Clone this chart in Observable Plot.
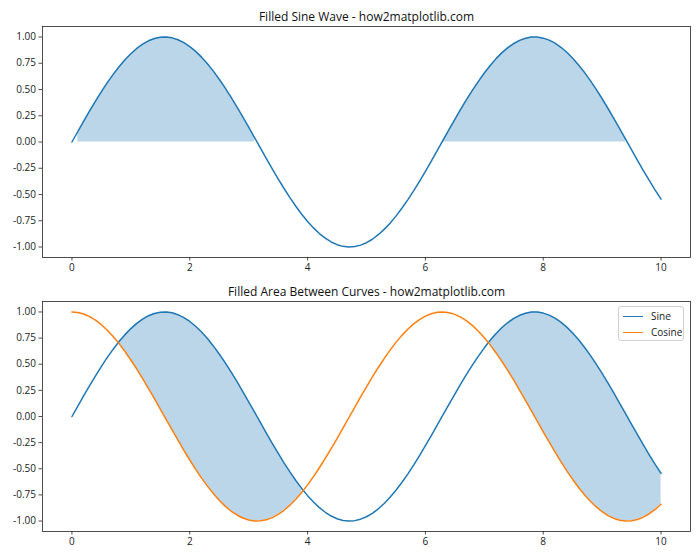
<!DOCTYPE html>
<html><head><meta charset="utf-8">
<script src="https://cdn.jsdelivr.net/npm/d3@7"></script>
<script src="https://cdn.jsdelivr.net/npm/@observablehq/plot@0.6"></script>
<style>
body{margin:0;background:#fff;}
#wrap{position:relative;width:700px;height:560px;font-family:"Open Sans","Noto Sans",sans-serif;}
#wrap svg{display:block;}
.legend{position:absolute;left:618px;top:306px;width:66px;height:35px;border:1px solid #d0d0d0;border-radius:3px;background:rgba(255,255,255,0.8);font-size:10px;color:#222;box-sizing:border-box;}
.legend .row{position:absolute;left:4px;height:14px;display:flex;align-items:center;}
.legend .sw{width:20px;height:0;border-top:1.5px solid;margin-right:8px;}
</style></head><body><div id="wrap"></div>
<script>
const xs = [0,0.1,0.2,0.3,0.4,0.5,0.6,0.7,0.8,0.9,1,1.1,1.2,1.3,1.4,1.5,1.6,1.7,1.8,1.9,2,2.1,2.2,2.3,2.4,2.5,2.6,2.7,2.8,2.9,3,3.1,3.2,3.3,3.4,3.5,3.6,3.7,3.8,3.9,4,4.1,4.2,4.3,4.4,4.5,4.6,4.7,4.8,4.9,5,5.1,5.2,5.3,5.4,5.5,5.6,5.7,5.8,5.9,6,6.1,6.2,6.3,6.4,6.5,6.6,6.7,6.8,6.9,7,7.1,7.2,7.3,7.4,7.5,7.6,7.7,7.8,7.9,8,8.1,8.2,8.3,8.4,8.5,8.6,8.7,8.8,8.9,9,9.1,9.2,9.3,9.4,9.5,9.6,9.7,9.8,9.9,10];
const sine = [0.000,0.100,0.199,0.296,0.389,0.479,0.565,0.644,0.717,0.783,0.841,0.891,0.932,0.964,0.985,0.997,1.000,0.992,0.974,0.946,0.909,0.863,0.808,0.746,0.675,0.598,0.516,0.427,0.335,0.239,0.141,0.042,-0.058,-0.158,-0.256,-0.351,-0.443,-0.530,-0.612,-0.688,-0.757,-0.818,-0.872,-0.916,-0.952,-0.978,-0.994,-1.000,-0.996,-0.982,-0.959,-0.926,-0.883,-0.832,-0.773,-0.706,-0.631,-0.551,-0.465,-0.374,-0.279,-0.182,-0.083,0.017,0.117,0.215,0.312,0.405,0.494,0.578,0.657,0.729,0.794,0.851,0.899,0.938,0.968,0.988,0.999,0.999,0.989,0.970,0.941,0.902,0.855,0.798,0.734,0.663,0.585,0.501,0.412,0.319,0.223,0.124,0.025,-0.075,-0.174,-0.272,-0.366,-0.458,-0.544];
const cosine = [1.000,0.995,0.980,0.955,0.921,0.878,0.825,0.765,0.697,0.622,0.540,0.454,0.362,0.267,0.170,0.071,-0.029,-0.129,-0.227,-0.323,-0.416,-0.505,-0.589,-0.666,-0.737,-0.801,-0.857,-0.904,-0.942,-0.971,-0.990,-0.999,-0.998,-0.987,-0.967,-0.936,-0.897,-0.848,-0.791,-0.726,-0.654,-0.575,-0.490,-0.401,-0.307,-0.211,-0.112,-0.012,0.087,0.187,0.284,0.378,0.469,0.554,0.635,0.709,0.776,0.835,0.886,0.927,0.960,0.983,0.997,1.000,0.993,0.977,0.950,0.914,0.869,0.816,0.754,0.685,0.608,0.526,0.439,0.347,0.251,0.153,0.054,-0.046,-0.146,-0.243,-0.339,-0.431,-0.520,-0.602,-0.679,-0.749,-0.811,-0.865,-0.911,-0.948,-0.975,-0.992,-1.000,-0.997,-0.985,-0.962,-0.930,-0.889,-0.839];
const titles = ["Filled Sine Wave - how2matplotlib.com", "Filled Area Between Curves - how2matplotlib.com"];
const xTicks = [0, 2, 4, 6, 8, 10];
const yTicks = [-1, -0.75, -0.5, -0.25, 0, 0.25, 0.5, 0.75, 1];
const seriesNames = ["Sine", "Cosine"];
const colors = ["#1f77b4", "#ff7f0e"];

const data = xs.map((x, i) => ({x, s: sine[i], c: cosine[i]}));
const fmtY = d => d3.format(".2f")(d).replace("−", "-");

function axes() {
  return [
    Plot.axisX(xTicks, {tickSize: 3.5, tickPadding: 3, tickFormat: d => String(d), fontSize: 10, fill: "#222", stroke: "#222", strokeWidth: 0.8}),
    Plot.axisY(yTicks, {tickSize: 3.5, tickPadding: 3, tickFormat: fmtY, fontSize: 10, fill: "#222", stroke: "#222", strokeWidth: 0.8}),
    Plot.frame({stroke: "#222", strokeWidth: 0.8})
  ];
}
function opts(mt, mb, marks) {
  return {
    width: 700, height: 280, marginTop: mt, marginBottom: mb, marginLeft: 42, marginRight: 10,
    x: {domain: [-0.5, 10.5], label: null},
    y: {domain: [-1.1, 1.1], label: null},
    style: {fontFamily: "'Open Sans','Noto Sans',sans-serif", fontSize: "10px", background: "white", overflow: "visible"},
    marks
  };
}
const wrap = document.getElementById("wrap");

const p1 = Plot.plot(opts(26, 23, [
  Plot.areaY(data, {x: "x", y1: 0, y2: d => d.s > 0 ? d.s : NaN, fill: colors[0], fillOpacity: 0.3}),
  Plot.line(data, {x: "x", y: "s", stroke: colors[0], strokeWidth: 1.5}),
  ...axes(),
  Plot.text([titles[0]], {frameAnchor: "top", lineAnchor: "bottom", dy: -6, fontSize: 12, fill: "#111", text: d => d})
]));
wrap.appendChild(p1);

const p2 = Plot.plot(opts(21, 29, [
  Plot.areaY(data, {x: "x", y1: d => d.s > d.c ? d.c : NaN, y2: d => d.s > d.c ? d.s : NaN, fill: colors[0], fillOpacity: 0.3}),
  Plot.line(data, {x: "x", y: "s", stroke: colors[0], strokeWidth: 1.5}),
  Plot.line(data, {x: "x", y: "c", stroke: colors[1], strokeWidth: 1.5}),
  ...axes(),
  Plot.text([titles[1]], {frameAnchor: "top", lineAnchor: "bottom", dy: -6, fontSize: 12, fill: "#111", text: d => d})
]));
wrap.appendChild(p2);

const lg = document.createElement("div");
lg.className = "legend";
seriesNames.forEach((n, i) => {
  const r = document.createElement("div");
  r.className = "row";
  r.style.top = (2 + i * 16) + "px";
  const sw = document.createElement("span");
  sw.className = "sw";
  sw.style.borderTopColor = colors[i];
  const t = document.createElement("span");
  t.textContent = n;
  r.appendChild(sw); r.appendChild(t);
  lg.appendChild(r);
});
wrap.appendChild(lg);
</script></body></html>
